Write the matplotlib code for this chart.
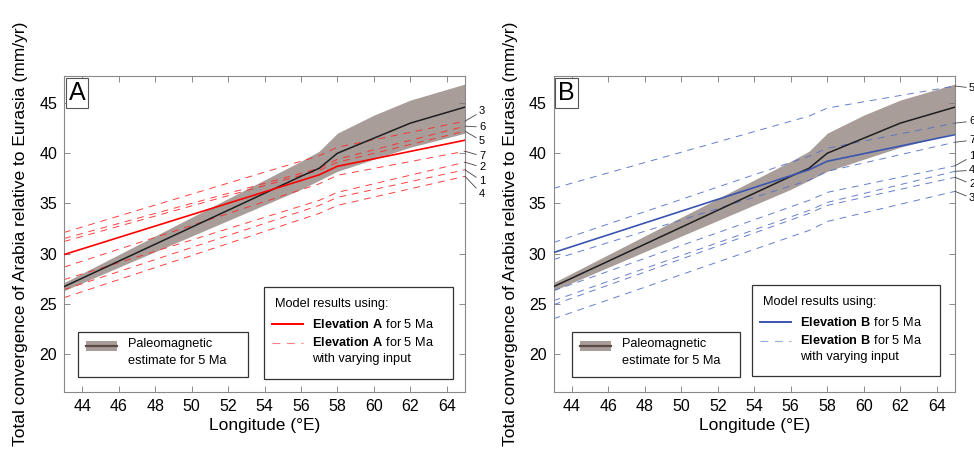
import matplotlib
matplotlib.use("Agg")
import matplotlib.pyplot as plt
import matplotlib.transforms as mtransforms
from matplotlib.patches import Rectangle
from matplotlib.lines import Line2D

plt.rcParams['font.family'] = ['Liberation Sans', 'DejaVu Sans']
plt.rcParams['mathtext.fontset'] = 'custom'
plt.rcParams['mathtext.rm'] = 'Liberation Sans'
plt.rcParams['mathtext.bf'] = 'Liberation Sans:bold'

# ---------------- data ----------------
# paleomagnetic estimate (centre line and uncertainty band)
paleo_lon = [43, 56, 57, 58, 60, 62, 65]
paleo_mid = [26.7, 37.7, 38.5, 40.0, 41.5, 43.0, 44.6]
paleo_hi = [27.1, 39.2, 40.2, 42.0, 43.8, 45.3, 46.9]
paleo_lo = [26.3, 36.4, 37.3, 38.2, 39.4, 40.6, 42.0]

model_lon = [43, 57, 58, 65]

# Panel A: Elevation A
elevA_main = [29.9, 37.85, 38.7, 41.3]
elevA_labels = ['3', '6', '5', '7', '2', '1', '4']
elevA_runs = [
    [32.1, 39.75, 40.6, 43.2],
    [31.5, 38.5, 39.4, 42.7],
    [31.2, 38.3, 39.1, 42.2],
    [28.65, 36.95, 37.8, 40.2],
    [27.4, 35.3, 36.1, 39.1],
    [26.4, 34.8, 35.6, 38.35],
    [25.6, 34.0, 34.8, 37.7],
]
elevA_label_y = [44.2, 42.6, 41.2, 39.7, 38.6, 37.2, 35.9]

# Panel B: Elevation B
elevB_main = [30.1, 38.35, 39.2, 41.85]
elevB_labels = ['5', '6', '7', '1', '4', '2', '3']
elevB_runs = [
    [36.5, 43.7, 44.5, 46.7],
    [31.1, 39.7, 40.5, 43.0],
    [29.4, 37.3, 38.2, 41.1],
    [26.3, 35.3, 36.1, 38.75],
    [25.3, 34.3, 35.1, 38.2],
    [24.9, 34.0, 34.8, 37.6],
    [23.5, 32.3, 33.2, 36.2],
]
elevB_label_y = [46.5, 43.2, 41.3, 39.7, 38.3, 36.9, 35.5]

xticks = [44, 46, 48, 50, 52, 54, 56, 58, 60, 62, 64]
yticks = [20, 25, 30, 35, 40, 45]

BAND = '#a89d99'
PAL_LINE = '#1e1e1e'
LEG_PAL_LINE = '#5b4a45'
DASH = (7, 6)

fig = plt.figure(figsize=(9.74, 4.66), dpi=100)
W, H = 974, 466


def px_axes(x0, y0, x1, y1):
    return fig.add_axes([x0 / W, 1 - y1 / H, (x1 - x0) / W, (y1 - y0) / H])


axA = px_axes(64, 76, 465, 392)
axB = px_axes(553.5, 76, 955, 392)

panels = [
    (axA, 'A', elevA_main, elevA_runs, elevA_labels, elevA_label_y, '#ff0000', '#ff2a2a', 'Elevation\\ A'),
    (axB, 'B', elevB_main, elevB_runs, elevB_labels, elevB_label_y, '#3a55b0', '#5570c8', 'Elevation\\ B'),
]

for ax, letter, main, runs, labels, label_y, c_main, c_run, elev in panels:
    ax.fill_between(paleo_lon, paleo_lo, paleo_hi, color=BAND, lw=0, zorder=1)
    for r in runs:
        ln, = ax.plot(model_lon, r, color=c_run, lw=0.7, alpha=0.9, zorder=2)
        ln.set_dashes(DASH)
    ax.plot(paleo_lon, paleo_mid, color=PAL_LINE, lw=1.1, zorder=3)
    ax.plot(model_lon, main, color=c_main, lw=1.2, zorder=4)

    ax.set_xlim(43, 65)
    ax.set_ylim(16.2, 47.7)
    ax.set_xticks(xticks)
    ax.set_yticks(yticks)
    ax.tick_params(direction='in', length=4, width=0.6, color='#777777',
                   labelsize=11.5, top=True, right=True, pad=5)
    for s in ax.spines.values():
        s.set_color('#888888')
        s.set_linewidth(0.8)
    ax.set_xlabel('Longitude (°E)', fontsize=12.5, labelpad=3)
    ax.set_ylabel('Total convergence of Arabia relative to Eurasia (mm/yr)', fontsize=12.5, labelpad=8)

    # panel letter box
    ax.text(0.012, 0.985, letter, transform=ax.transAxes, fontsize=18, va='top', ha='left',
            bbox=dict(boxstyle='square,pad=0.12', fc='white', ec='#555555', lw=0.8), zorder=10)

    # right-hand run labels with leaders
    trans = mtransforms.blended_transform_factory(ax.transAxes, ax.transData)
    for lab, ly, r in zip(labels, label_y, runs):
        ax.annotate(lab, xy=(1.0, r[-1]), xycoords=trans, xytext=(1.035, ly), textcoords=trans,
                    fontsize=8, va='center', ha='left', annotation_clip=False,
                    arrowprops=dict(arrowstyle='-', color='#444444', lw=0.6, shrinkA=0, shrinkB=0))

    ax0 = 64 if letter == 'A' else 553.5

    def fx(px):
        return (px - ax0) / 401.0

    def fy(py):
        return (392 - py) / 316.0

    # paleomagnetic legend
    if letter == 'A':
        bx0, by0, bx1, by1 = 78, 332, 248, 377
    else:
        bx0, by0, bx1, by1 = 571.7, 332, 740, 377
    ax.add_patch(Rectangle((fx(bx0), fy(by1)), fx(bx1) - fx(bx0), fy(by0) - fy(by1), transform=ax.transAxes,
                           fc='white', ec='#333333', lw=0.9, zorder=8))
    sx0 = bx0 + 8
    ax.add_patch(Rectangle((fx(sx0), fy(351)), fx(sx0 + 31) - fx(sx0), fy(340.5) - fy(351),
                           transform=ax.transAxes, fc=BAND, ec='none', zorder=9))
    ax.add_line(Line2D([fx(sx0), fx(sx0 + 31)], [fy(345.7), fy(345.7)], transform=ax.transAxes,
                       color=LEG_PAL_LINE, lw=1.6, zorder=10))
    ax.text(fx(bx0 + 50), fy(344), 'Paleomagnetic', transform=ax.transAxes, fontsize=9.2,
            va='center', ha='left', zorder=10)
    ax.text(fx(bx0 + 50), fy(361.5), 'estimate for 5 Ma', transform=ax.transAxes, fontsize=9.2,
            va='center', ha='left', zorder=10)

    # model legend
    if letter == 'A':
        mx0, my0, mx1, my1 = 264, 287, 453, 379
    else:
        mx0, my0, mx1, my1 = 751.7, 285, 939.3, 376
    ax.add_patch(Rectangle((fx(mx0), fy(my1)), fx(mx1) - fx(mx0), fy(my0) - fy(my1), transform=ax.transAxes,
                           fc='white', ec='#333333', lw=0.9, zorder=8))
    ax.text(fx(mx0 + 11), fy(my0 + 17), 'Model results using:', transform=ax.transAxes, fontsize=9.2,
            va='center', ha='left', zorder=10)
    ax.add_line(Line2D([fx(mx0 + 8), fx(mx0 + 39)], [fy(my0 + 37), fy(my0 + 37)], transform=ax.transAxes,
                       color=c_main, lw=1.4, zorder=10))
    dl = Line2D([fx(mx0 + 8), fx(mx0 + 39)], [fy(my0 + 55.5), fy(my0 + 55.5)], transform=ax.transAxes,
                color=c_run, lw=0.8, alpha=0.6, zorder=10)
    dl.set_dashes(DASH)
    ax.add_line(dl)
    ax.text(fx(mx0 + 48), fy(my0 + 37), r'$\bf{' + elev + r'}$ for 5 Ma', transform=ax.transAxes,
            fontsize=9.2, va='center', ha='left', zorder=10)
    ax.text(fx(mx0 + 48), fy(my0 + 55.5), r'$\bf{' + elev + r'}$ for 5 Ma', transform=ax.transAxes,
            fontsize=9.2, va='center', ha='left', zorder=10)
    ax.text(fx(mx0 + 48), fy(my0 + 72), 'with varying input', transform=ax.transAxes,
            fontsize=9.2, va='center', ha='left', zorder=10)

fig.savefig('out.png', dpi=100)
